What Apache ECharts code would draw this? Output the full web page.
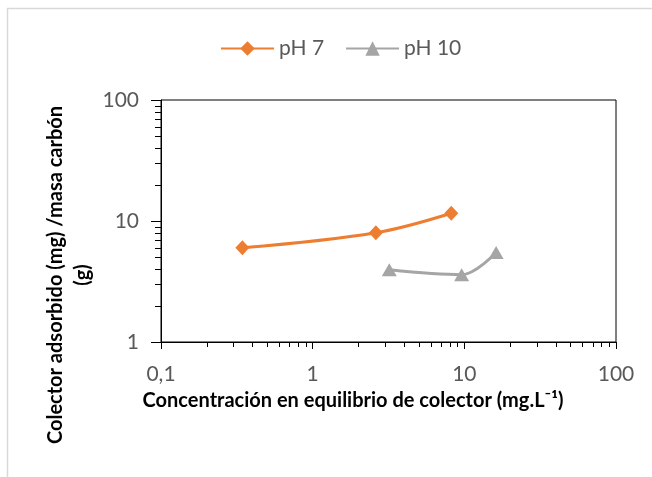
<!DOCTYPE html>
<html>
<head>
<meta charset="utf-8">
<script src="https://cdn.jsdelivr.net/npm/echarts@6/dist/echarts.min.js"></script>
<style>
html,body{margin:0;padding:0;background:#fff;}
#c{width:652px;height:477px;}
</style>
</head>
<body>
<div id="c"></div>
<script>
// ---- data ----
var seriesNames = ['pH 7', 'pH 10'];
var ph7X = [0.344, 2.61, 8.2];
var ph7Y = [6.0, 8.0, 11.6];
var ph10X = [3.2, 9.6, 16.2];
var ph10Y = [3.95, 3.6, 5.5];
var xTickValues = [0.1, 1, 10, 100];
var yTickValues = [1, 10, 100];
var minorFactors = [2, 3, 4, 5, 6, 7, 8, 9];
var xDecades = [0.1, 1, 10];
var yDecades = [1, 10];
var xTitle = 'Concentración en equilibrio de colector (mg.L⁻¹)';
var yTitle = 'Colector adsorbido (mg) /masa carbón\n(g)';

function pairs(xs, ys){ return xs.map(function(x,i){ return [x, ys[i]]; }); }
var xMinor = [], yMinor = [];
xDecades.forEach(function(d){ minorFactors.forEach(function(f){ xMinor.push([+(d*f).toPrecision(3), 1]); }); });
yDecades.forEach(function(d){ minorFactors.forEach(function(f){ yMinor.push([0.1, +(d*f).toPrecision(3)]); }); });

var FONT = 'Lato';
var chart = echarts.init(document.getElementById('c'), null, {renderer:'canvas'});
function fmt(v){ return String(v).replace('.', ','); }

var option = {
  animation: false,
  backgroundColor: '#fff',
  legend: {
    left: 215, top: 33,
    itemWidth: 53, itemHeight: 18, itemGap: 21,
    textStyle: {fontFamily: FONT, fontSize: 21, color: '#595959'},
    data: seriesNames
  },
  grid: {left: 161, right: 36, top: 100, bottom: 135, show: true, borderColor: '#000', borderWidth: 1},
  xAxis: {
    type: 'log', logBase: 10, min: 0.1, max: 100,
    axisLine: {lineStyle: {color: '#000', width: 1}},
    axisTick: {length: 7, lineStyle: {color: '#000'}},
    axisLabel: {fontFamily: FONT, fontSize: 21, color: '#595959', margin: 22,
      formatter: function(v){ return xTickValues.indexOf(+v.toPrecision(3)) >= 0 ? fmt(+v.toPrecision(3)) : ''; }},
    splitLine: {show: false}
  },
  yAxis: {
    type: 'log', logBase: 10, min: 1, max: 100,
    axisLine: {show: true, lineStyle: {color: '#000', width: 1}},
    axisTick: {show: true, length: 10, lineStyle: {color: '#000'}},
    axisLabel: {fontFamily: FONT, fontSize: 21, color: '#595959', margin: 22,
      formatter: function(v){ return fmt(+v.toPrecision(3)); }},
    splitLine: {show: false}
  },
  series: [
    {
      name: seriesNames[0], type: 'line', data: pairs(ph7X, ph7Y),
      smooth: 0.35, symbol: 'diamond', symbolSize: [14, 15],
      itemStyle: {color: '#ED7D31'}, lineStyle: {color: '#ED7D31', width: 3}
    },
    {
      name: seriesNames[1], type: 'line', data: pairs(ph10X, ph10Y),
      smooth: 0.35, symbol: 'triangle', symbolSize: [15, 13],
      itemStyle: {color: '#A5A5A5'}, lineStyle: {color: '#A5A5A5', width: 3}
    },
    {
      type: 'custom', clip: false, silent: true, data: xMinor,
      renderItem: function(params, api){
        var p = api.coord([api.value(0), api.value(1)]);
        var x = Math.round(p[0]) + 0.5;
        return {type: 'line', shape: {x1: x, y1: p[1], x2: x, y2: p[1] + 5}, style: {stroke: '#000', lineWidth: 1}};
      }
    },
    {
      type: 'custom', clip: false, silent: true, data: yMinor,
      renderItem: function(params, api){
        var p = api.coord([api.value(0), api.value(1)]);
        var y = Math.round(p[1]) + 0.5;
        return {type: 'line', shape: {x1: p[0], y1: y, x2: p[0] - 6, y2: y}, style: {stroke: '#000', lineWidth: 1}};
      }
    }
  ],
  graphic: [
    {type: 'line', shape: {x1: 7, y1: 8.5, x2: 652, y2: 8.5}, style: {stroke: '#d9d9d9', lineWidth: 1.5}},
    {type: 'line', shape: {x1: 7.5, y1: 8, x2: 7.5, y2: 477}, style: {stroke: '#d9d9d9', lineWidth: 1.5}},
    {type: 'text', x: 353, y: 401, style: {text: xTitle, fontFamily: FONT, fontWeight: 'bold', fontSize: 20, fill: '#000', align: 'center', verticalAlign: 'middle'}},
    {type: 'text', x: 69, y: 275, rotation: Math.PI/2, style: {text: yTitle, fontFamily: FONT, fontWeight: 'bold', fontSize: 20, lineHeight: 27, fill: '#000', align: 'center', verticalAlign: 'middle'}}
  ]
};
chart.setOption(option);
</script>
</body>
</html>
